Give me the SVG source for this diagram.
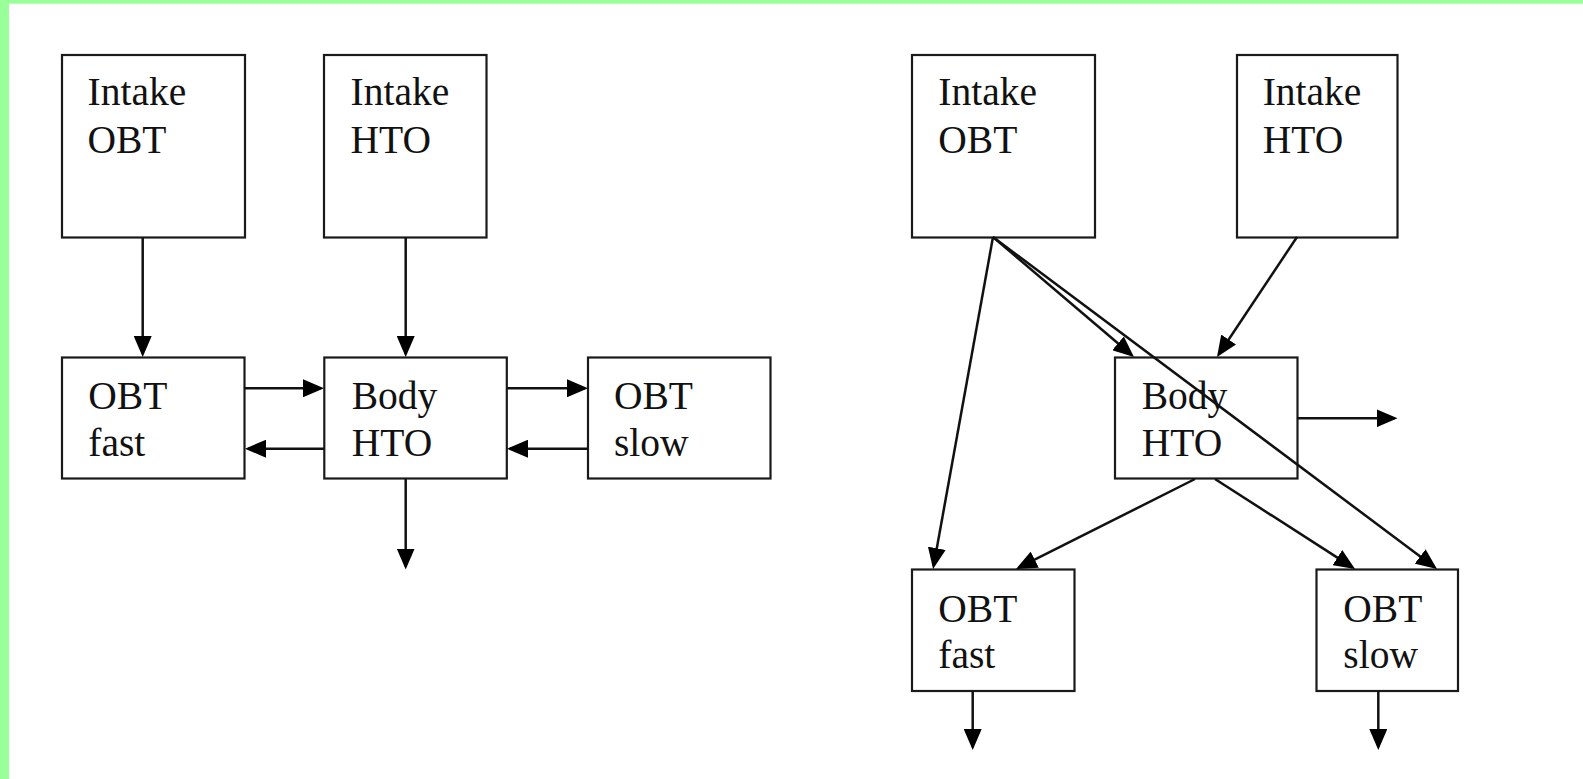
<svg xmlns="http://www.w3.org/2000/svg" width="1583" height="779" viewBox="0 0 1583 779">
  <style>
    .box { fill: #ffffff; stroke: #1a1a1a; stroke-width: 2.2; }
    .lbl { font-family: "Liberation Serif", "Times New Roman", serif; font-size: 39.5px; fill: #111111; }
    .flow { stroke: #111111; stroke-width: 2.5; fill: none; marker-end: url(#head); }
  </style>
  <defs>
    <marker id="head" markerUnits="userSpaceOnUse" markerWidth="21" markerHeight="18" refX="18" refY="9" orient="auto">
      <path d="M0,0 L21,9 L0,18 Z" fill="#000000"/>
    </marker>
  </defs>

  <!-- page background with green frame -->
  <rect x="0" y="0" width="1583" height="779" fill="#ffffff"/>
  <rect x="0" y="0" width="1583" height="3.7" fill="#99ff99"/>
  <rect x="0" y="0" width="9" height="779" fill="#99ff99"/>

  <!-- Model A: compartments in a row -->
  <g id="a-intake-obt">
    <rect class="box" x="62" y="55" width="183" height="182.5"/>
    <text class="lbl" x="87.5" y="105">Intake</text>
    <text class="lbl" x="87.5" y="152.5">OBT</text>
  </g>
  <g id="a-intake-hto">
    <rect class="box" x="324" y="55" width="162.5" height="182.5"/>
    <text class="lbl" x="350.5" y="105">Intake</text>
    <text class="lbl" x="350.5" y="152.5">HTO</text>
  </g>
  <g id="a-obt-fast">
    <rect class="box" x="62" y="357.5" width="182.5" height="121"/>
    <text class="lbl" x="88.3" y="409.3">OBT</text>
    <text class="lbl" x="88.3" y="456">fast</text>
  </g>
  <g id="a-body-hto">
    <rect class="box" x="324.3" y="357.5" width="182.5" height="121"/>
    <text class="lbl" x="351.7" y="409.3">Body</text>
    <text class="lbl" x="351.7" y="456">HTO</text>
  </g>
  <g id="a-obt-slow">
    <rect class="box" x="588" y="357.5" width="182.5" height="121"/>
    <text class="lbl" x="614" y="409.3">OBT</text>
    <text class="lbl" x="614" y="456">slow</text>
  </g>

  <!-- Model B: intakes feeding body water and both OBT pools -->
  <g id="b-intake-obt">
    <rect class="box" x="912" y="55" width="183" height="182.5"/>
    <text class="lbl" x="938.3" y="105">Intake</text>
    <text class="lbl" x="938.3" y="152.5">OBT</text>
  </g>
  <g id="b-intake-hto">
    <rect class="box" x="1237" y="55" width="160.5" height="182.5"/>
    <text class="lbl" x="1262.7" y="105">Intake</text>
    <text class="lbl" x="1262.7" y="152.5">HTO</text>
  </g>
  <g id="b-body-hto">
    <rect class="box" x="1115" y="357.5" width="182.5" height="121"/>
    <text class="lbl" x="1141.7" y="408.5">Body</text>
    <text class="lbl" x="1141.7" y="455.5">HTO</text>
  </g>
  <g id="b-obt-fast">
    <rect class="box" x="912" y="569.5" width="162.5" height="121.5"/>
    <text class="lbl" x="938.3" y="621.7">OBT</text>
    <text class="lbl" x="938.3" y="668.3">fast</text>
  </g>
  <g id="b-obt-slow">
    <rect class="box" x="1316.5" y="569.5" width="141.5" height="121.5"/>
    <text class="lbl" x="1343.3" y="621.7">OBT</text>
    <text class="lbl" x="1343.3" y="668.3">slow</text>
  </g>

  <!-- transfer arrows -->
  <g id="connectors">
    <line class="flow" x1="142.7" y1="237.5" x2="142.7" y2="354"/>
    <line class="flow" x1="405.7" y1="237.5" x2="405.7" y2="354"/>
    <line class="flow" x1="244" y1="388.3" x2="321" y2="388.3"/>
    <line class="flow" x1="324" y1="448.7" x2="248" y2="448.7"/>
    <line class="flow" x1="507" y1="388.3" x2="585" y2="388.3"/>
    <line class="flow" x1="588" y1="448.7" x2="510" y2="448.7"/>
    <line class="flow" x1="405.7" y1="478.5" x2="405.7" y2="566.5"/>

    <line class="flow" x1="993" y1="237" x2="933.6" y2="566"/>
    <line class="flow" x1="993" y1="237" x2="1131.7" y2="355"/>
    <line class="flow" x1="993" y1="237" x2="1434.6" y2="567.2"/>
    <line class="flow" x1="1297" y1="237" x2="1218.7" y2="354.5"/>
    <line class="flow" x1="1297" y1="418.3" x2="1394.5" y2="418.3"/>
    <line class="flow" x1="1195" y1="479" x2="1018.7" y2="567.7"/>
    <line class="flow" x1="1215" y1="479" x2="1352.5" y2="567.4"/>
    <line class="flow" x1="972.7" y1="691" x2="972.7" y2="747"/>
    <line class="flow" x1="1378.3" y1="691" x2="1378.3" y2="747"/>
  </g>
</svg>
